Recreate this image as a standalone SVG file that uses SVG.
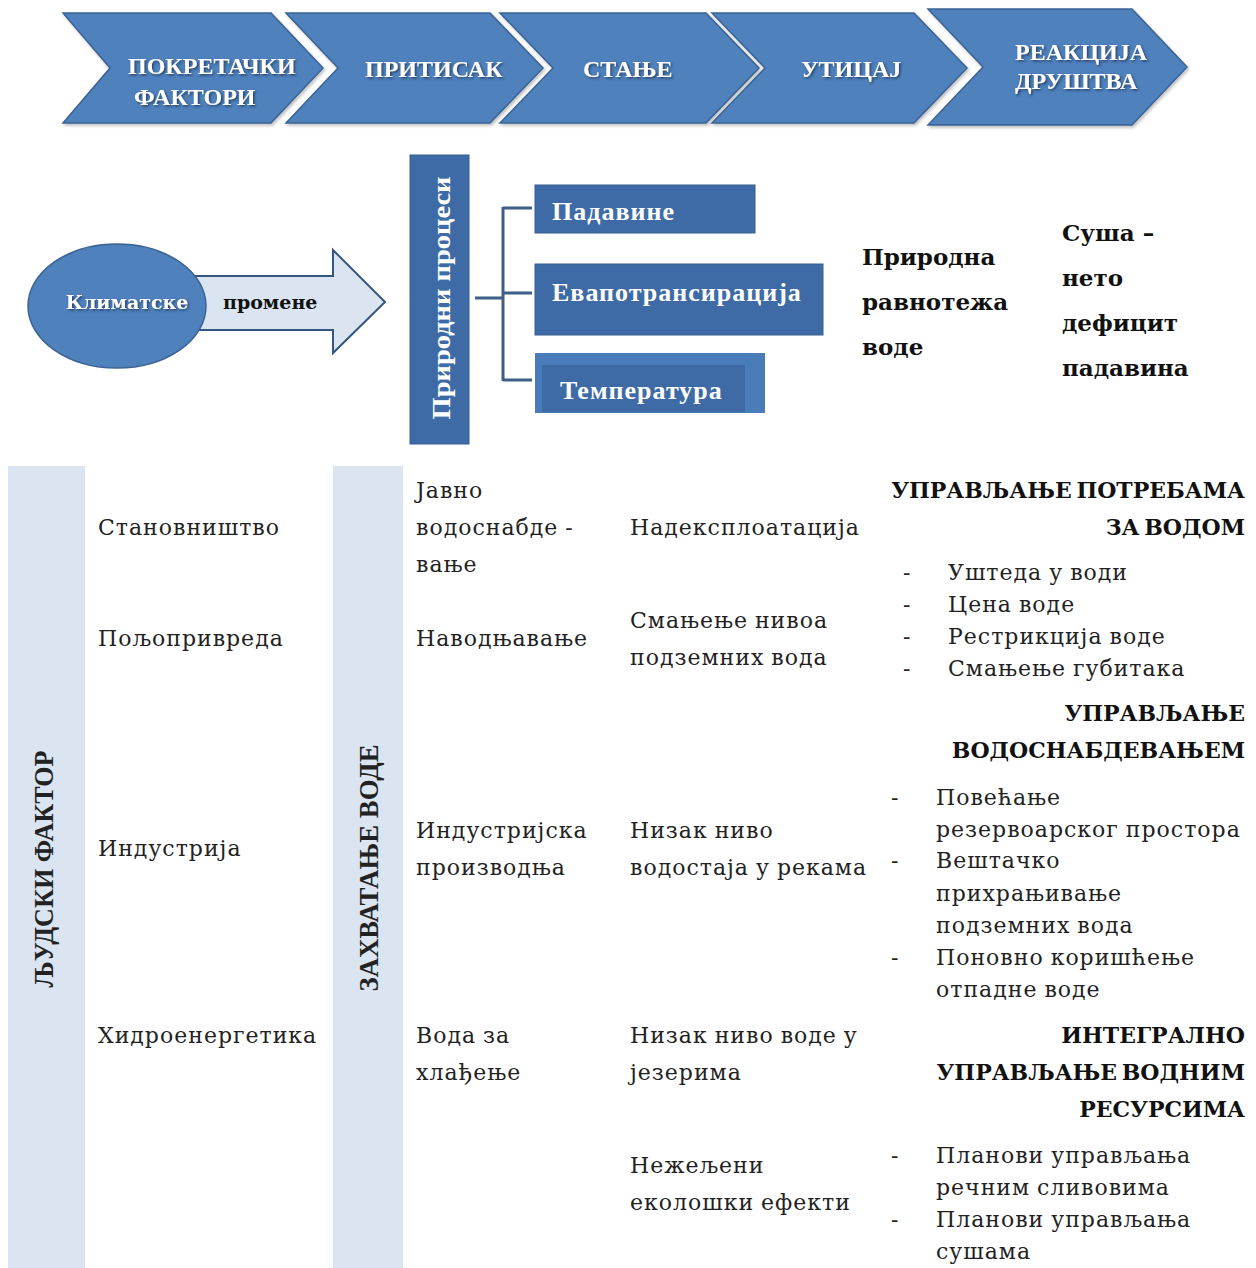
<svg xmlns="http://www.w3.org/2000/svg" width="1256" height="1268" viewBox="0 0 1256 1268">
<defs>
<filter id="ts" x="-10%" y="-30%" width="120%" height="160%">
<feDropShadow dx="1.5" dy="1.5" stdDeviation="0.8" flood-color="#1b3556" flood-opacity="0.85"/>
</filter>
<filter id="sh" x="-5%" y="-5%" width="115%" height="115%">
<feDropShadow dx="1.5" dy="2" stdDeviation="1.5" flood-color="#000" flood-opacity="0.25"/>
</filter>
</defs>
<style>
.chev{fill:#4f81bd;stroke:#3a6394;stroke-width:1.5}
.ct{font-family:"Liberation Serif","DejaVu Serif",serif;font-weight:bold;font-size:24px;fill:#fff}
.box{fill:#3e6ba6;stroke:#35608f;stroke-width:1}
.bt{font-family:"Liberation Serif","DejaVu Serif",serif;font-weight:bold;font-size:26px;letter-spacing:1px;fill:#fff}
.bk{font-family:"DejaVu Serif",serif;font-weight:bold;font-size:23px;fill:#111}
.t{font-family:"DejaVu Serif",serif;font-size:22px;letter-spacing:1px;word-spacing:-1px;fill:#222}
.h{font-family:"DejaVu Serif",serif;font-weight:bold;font-size:22px;word-spacing:-3px;fill:#111;text-anchor:end}
.band{fill:#dbe5f1}
.vt{font-family:"Liberation Serif","DejaVu Serif",serif;font-weight:bold;font-size:27px;fill:#222;text-anchor:middle}
.con{stroke:#3d5f88;stroke-width:3;fill:none}
</style>
<rect width="1256" height="1268" fill="#fff"/>

<!-- Top chevrons -->
<g id="chev1"><polygon class="chev" points="63,13 271,13 323,68 271,123 63,123 110,68" filter="url(#sh)"/>
<text class="ct" filter="url(#ts)"><tspan x="128" y="74">ПОКРЕТАЧКИ</tspan><tspan x="134" y="105">ФАКТОРИ</tspan></text></g>
<g id="chev2"><polygon class="chev" points="286,13 490,13 543,68 490,123 286,123 338,68" filter="url(#sh)"/>
<text class="ct" filter="url(#ts)" x="365" y="77">ПРИТИСАК</text></g>
<g id="chev3"><polygon class="chev" points="500,13 706,13 759,68 706,123 500,123 553,68" filter="url(#sh)"/>
<text class="ct" filter="url(#ts)" x="583" y="77">СТАЊЕ</text></g>
<g id="chev4"><polygon class="chev" points="712,13 914,13 967,68 914,123 712,123 765,68" filter="url(#sh)"/>
<text class="ct" filter="url(#ts)" x="801" y="77">УТИЦАЈ</text></g>
<g id="chev5"><polygon class="chev" points="928,9 1132,9 1187,67 1132,125 928,125 983,67" filter="url(#sh)"/>
<text class="ct" filter="url(#ts)"><tspan x="1015" y="60">РЕАКЦИЈА</tspan><tspan x="1015" y="89">ДРУШТВА</tspan></text></g>

<!-- Climate change -->
<g id="arrow"><polygon points="190,276 333,276 333,250 385,302 333,353 333,330 190,330" fill="#dbe5f1" stroke="#35577f" stroke-width="2"/>
<text x="223" y="309" font-family="DejaVu Serif,serif" font-weight="bold" font-size="19" fill="#111">промене</text></g>
<g id="climate"><ellipse cx="117" cy="306" rx="89" ry="62" fill="#4f81bd" stroke="#3a6394" stroke-width="1.5"/>
<text x="127" y="309" text-anchor="middle" font-family="DejaVu Serif,serif" font-weight="bold" font-size="19" fill="#fff" filter="url(#ts)">Климатске</text></g>

<g id="natural"><rect class="box" x="410" y="155" width="59" height="289"/>
<text font-family="Liberation Serif,DejaVu Serif,serif" font-weight="bold" font-size="26" fill="#fff" transform="translate(450,298) rotate(-90)" text-anchor="middle" textLength="243" lengthAdjust="spacingAndGlyphs">Природни процеси</text></g>

<g id="connectors">
<path class="con" d="M475,298 H503 M503,207 V381 M503,208 H532 M503,293 H532 M503,380 H532"/>
</g>

<g id="padavine"><rect class="box" x="535" y="185" width="220" height="48"/>
<text class="bt" x="552" y="220">Падавине</text></g>
<g id="evapo"><rect class="box" x="535" y="264" width="288" height="71"/>
<text class="bt" x="552" y="301">Евапотрансирација</text></g>
<g id="temp"><rect x="535" y="353" width="230" height="60" fill="#4a7cb9"/><rect x="542" y="365" width="203" height="47" fill="#3e6ba6"/>
<text class="bt" x="560" y="399">Температура</text></g>

<g id="balance"><text class="bk"><tspan x="862" y="265">Природна</tspan><tspan x="862" y="310">равнотежа</tspan><tspan x="862" y="355">воде</tspan></text></g>
<g id="drought"><text class="bk"><tspan x="1062" y="241">Суша –</tspan><tspan x="1062" y="286">нето</tspan><tspan x="1062" y="331">дефицит</tspan><tspan x="1062" y="376">падавина</tspan></text></g>

<!-- Bottom table -->
<g id="human"><rect class="band" x="8" y="466" width="77" height="802"/>
<text class="vt" transform="translate(53,869) rotate(-90)" textLength="237" lengthAdjust="spacingAndGlyphs">ЉУДСКИ ФАКТОР</text></g>
<g id="abstraction"><rect class="band" x="333" y="466" width="70" height="802"/>
<text class="vt" transform="translate(378,868) rotate(-90)" textLength="247" lengthAdjust="spacingAndGlyphs">ЗАХВАТАЊЕ ВОДЕ</text></g>

<g id="sectors"><text class="t">
<tspan x="98" y="535">Становништво</tspan>
<tspan x="98" y="646">Пољопривреда</tspan>
<tspan x="98" y="856">Индустрија</tspan>
<tspan x="98" y="1043">Хидроенергетика</tspan></text></g>

<g id="uses"><text class="t">
<tspan x="416" y="498">Јавно</tspan>
<tspan x="416" y="535">водоснабде -</tspan>
<tspan x="416" y="572">вање</tspan>
<tspan x="416" y="646">Наводњавање</tspan>
<tspan x="416" y="838">Индустријска</tspan>
<tspan x="416" y="875">производња</tspan>
<tspan x="416" y="1043">Вода за</tspan>
<tspan x="416" y="1080">хлађење</tspan></text></g>

<g id="impacts"><text class="t">
<tspan x="630" y="535">Надексплоатација</tspan>
<tspan x="630" y="628">Смањење нивоа</tspan>
<tspan x="630" y="665">подземних вода</tspan>
<tspan x="630" y="838">Низак ниво</tspan>
<tspan x="630" y="875">водостаја у рекама</tspan>
<tspan x="630" y="1043">Низак ниво воде у</tspan>
<tspan x="630" y="1080">језерима</tspan>
<tspan x="630" y="1173">Нежељени</tspan>
<tspan x="630" y="1210">еколошки ефекти</tspan></text></g>

<g id="demand"><text class="h"><tspan x="1245" y="498">УПРАВЉАЊЕ ПОТРЕБАМА</tspan><tspan x="1245" y="535">ЗА ВОДОМ</tspan></text>
<text class="t"><tspan x="903" y="580">-</tspan><tspan x="948" y="580">Уштеда у води</tspan>
<tspan x="903" y="612">-</tspan><tspan x="948" y="612">Цена воде</tspan>
<tspan x="903" y="644">-</tspan><tspan x="948" y="644">Рестрикција воде</tspan>
<tspan x="903" y="676">-</tspan><tspan x="948" y="676">Смањење губитака</tspan></text></g>

<g id="supply"><text class="h"><tspan x="1245" y="721">УПРАВЉАЊЕ</tspan><tspan x="1245" y="758">ВОДОСНАБДЕВАЊЕМ</tspan></text>
<text class="t"><tspan x="891" y="805">-</tspan><tspan x="936" y="805">Повећање</tspan>
<tspan x="936" y="837">резервоарског простора</tspan>
<tspan x="891" y="868">-</tspan><tspan x="936" y="868">Вештачко</tspan>
<tspan x="936" y="901">прихрањивање</tspan>
<tspan x="936" y="933">подземних вода</tspan>
<tspan x="891" y="965">-</tspan><tspan x="936" y="965">Поновно коришћење</tspan>
<tspan x="936" y="997">отпадне воде</tspan></text></g>

<g id="iwrm"><text class="h"><tspan x="1245" y="1043">ИНТЕГРАЛНО</tspan><tspan x="1245" y="1080">УПРАВЉАЊЕ ВОДНИМ</tspan><tspan x="1245" y="1117">РЕСУРСИМА</tspan></text>
<text class="t"><tspan x="891" y="1163">-</tspan><tspan x="936" y="1163">Планови управљања</tspan>
<tspan x="936" y="1195">речним сливовима</tspan>
<tspan x="891" y="1227">-</tspan><tspan x="936" y="1227">Планови управљања</tspan>
<tspan x="936" y="1259">сушама</tspan></text></g>
</svg>
